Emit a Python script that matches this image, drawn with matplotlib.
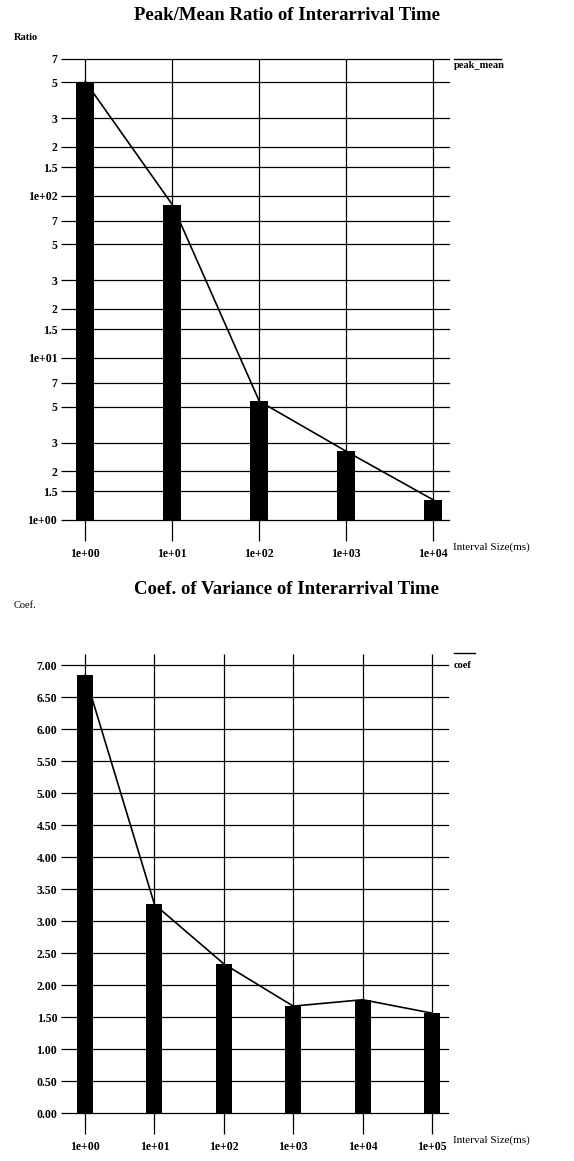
import matplotlib
matplotlib.use("Agg")
import matplotlib.pyplot as plt
from matplotlib.lines import Line2D
import numpy as np

plt.rcParams['font.family'] = ['Liberation Serif', 'DejaVu Serif']

# top chart: peak/mean ratio (log scale)
peak_labels = ['1e+00', '1e+01', '1e+02', '1e+03', '1e+04']
peak_mean = [505, 88, 5.4, 2.65, 1.33]
peak_ticks = [1, 1.5, 2, 3, 5, 7, 10, 15, 20, 30, 50, 70, 100, 150, 200, 300, 500, 700]
peak_tick_labels = ['1e+00', '1.5', '2', '3', '5', '7', '1e+01', '1.5', '2', '3', '5', '7',
                    '1e+02', '1.5', '2', '3', '5', '7']

# bottom chart: coefficient of variance
coef_labels = ['1e+00', '1e+01', '1e+02', '1e+03', '1e+04', '1e+05']
coef = [6.84, 3.26, 2.33, 1.67, 1.77, 1.56]
coef_ticks = [0, 0.5, 1, 1.5, 2, 2.5, 3, 3.5, 4, 4.5, 5, 5.5, 6, 6.5, 7]

W, H = 574, 1161


def px_rect(x0, y0, x1, y1):
    return [x0 / W, 1 - y1 / H, (x1 - x0) / W, (y1 - y0) / H]


def style_axes(ax, xlabels):
    for s in ax.spines.values():
        s.set_visible(False)
    ax.set_axisbelow(True)
    ax.grid(True, axis='y', color='black', lw=0.9)
    for gl in ax.get_ygridlines():
        gl.set_clip_on(False)
    ax.set_xticks(np.arange(len(xlabels)))
    ax.set_xticklabels(xlabels, fontsize=8.5, fontweight='bold')
    ax.tick_params(axis='x', length=15, width=0.9, direction='out', pad=5)
    ax.tick_params(axis='y', length=4, width=0.9, direction='out', pad=3,
                   labelsize=8.5)
    for t in ax.get_yticklabels():
        t.set_fontweight('bold')


fig = plt.figure(figsize=(W / 100, H / 100), dpi=100)

# ---- top ----
ax1 = fig.add_axes(px_rect(67, 58.5, 449, 520))
x1 = np.arange(len(peak_mean))
ax1.set_yscale('log')
ax1.vlines(x1, 1, 700, color='black', lw=0.9, zorder=1)
ax1.bar(x1, peak_mean, width=0.21, color='black', zorder=2)
ax1.plot(x1, peak_mean, color='black', lw=1.2, zorder=3)
ax1.set_ylim(1, 700)
ax1.set_xlim(-0.21, 4.18)
ax1.yaxis.set_minor_locator(matplotlib.ticker.NullLocator())
ax1.set_yticks(peak_ticks)
ax1.set_yticklabels(peak_tick_labels)
style_axes(ax1, peak_labels)
ax1.text(1.012, 0.995, 'peak_mean', transform=ax1.transAxes, ha='left', va='top',
         fontsize=7.5, fontweight='bold')
ax1.add_line(Line2D([1.012, 1.135], [1.0, 1.0], transform=ax1.transAxes,
                    color='black', lw=1.0, clip_on=False))
fig.text(453 / W, 1 - 547 / H, 'Interval Size(ms)', fontsize=8, va='center')
fig.text(14 / W, 1 - 38 / H, 'Ratio', fontsize=7.5, fontweight='bold', va='center')
fig.text(0.5, 1 - 16 / H, 'Peak/Mean Ratio of Interarrival Time', ha='center',
         va='center', fontsize=13.5, fontweight='bold')

# ---- bottom ----
ax2 = fig.add_axes(px_rect(67, 665, 448, 1113))
x2 = np.arange(len(coef))
ax2.vlines(x2, 0, 7.17, color='black', lw=0.9, zorder=1, clip_on=False)
ax2.bar(x2, coef, width=0.23, color='black', zorder=2)
ax2.plot(x2, coef, color='black', lw=1.2, zorder=3)
ax2.set_ylim(0, 7)
ax2.set_xlim(-0.26, 5.23)
ax2.set_yticks(coef_ticks)
ax2.set_yticklabels(['%.2f' % v for v in coef_ticks])
style_axes(ax2, coef_labels)
ax2.text(1.016, 1.01, 'coef', transform=ax2.transAxes, ha='left', va='top',
         fontsize=7.5, fontweight='bold')
ax2.add_line(Line2D([1.016, 1.07], [1.027, 1.027], transform=ax2.transAxes,
                    color='black', lw=1.0, clip_on=False))
fig.text(453 / W, 1 - 1140 / H, 'Interval Size(ms)', fontsize=8, va='center')
fig.text(14 / W, 1 - 605 / H, 'Coef.', fontsize=7.5, va='center')
fig.text(0.5, 1 - 590 / H, 'Coef. of Variance of Interarrival Time', ha='center',
         va='center', fontsize=13.5, fontweight='bold')

fig.savefig('out.png', dpi=100)
